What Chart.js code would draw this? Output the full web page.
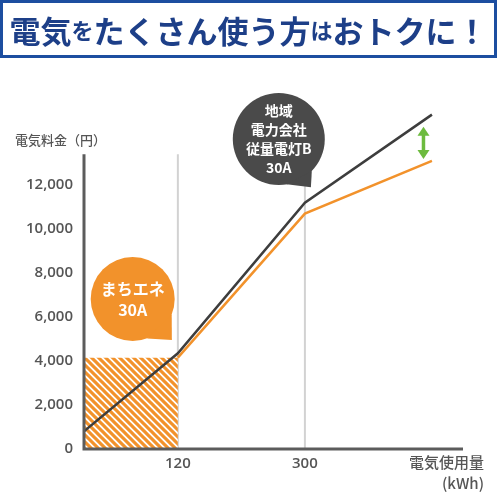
<!DOCTYPE html>
<html>
<head>
<meta charset="utf-8">
<script src="https://cdn.jsdelivr.net/npm/chart.js@4.4.1/dist/chart.umd.min.js"></script>
<style>
  body { margin: 0; background: #fff; }
  #wrap { position: relative; width: 500px; height: 500px; }
  #title {
    position: absolute; left: 0; top: 0; width: 497px; height: 58px;
    box-sizing: border-box; border: 3px solid #1c4ea0;
    display: flex; align-items: center; justify-content: center;
    font-family: "Noto Sans CJK JP", sans-serif; font-weight: 700;
    font-size: 31px; color: #1d3f88; white-space: nowrap;
  }
  #title .s { font-size: 22px; }
  canvas { position: absolute; left: 0; top: 0; }
</style>
</head>
<body>
<div id="wrap">
  <canvas id="chart" width="500" height="500"></canvas>
  <div id="title">電気<span class="s">を</span>たくさん使う方<span class="s">は</span>おトクに！</div>
</div>
<script>
// usage (kWh) and bill (yen)
const xTicks = [120, 300];
const yTicks = [0, 2000, 4000, 6000, 8000, 10000, 12000];

const regionalX = [-13, 120, 300, 480];
const regionalY = [800, 4350, 11200, 15200];

const machiX = [120, 300, 480];
const machiY = [4150, 10700, 13100];

const basicX = [-13, 120];
const basicY = [4150, 4150];

const axisTop = 13400;

const ORANGE = '#f2922b';
const DARK = '#3d3d3d';
const GRAY = '#555';
const JP = '"Noto Sans CJK JP", sans-serif';

const pts = (xs, ys) => xs.map((v, i) => ({ x: v, y: ys[i] }));

function stripes() {
    const n = 7;
    const t = document.createElement('canvas');
    t.width = t.height = n;
    const c = t.getContext('2d');
    c.fillStyle = '#fff';
    c.fillRect(0, 0, n, n);
    c.strokeStyle = ORANGE;
    c.lineWidth = 3.1;
    for (let k = -1; k <= 1; k++) {
        c.beginPath();
        c.moveTo(-2, -2 + n * k);
        c.lineTo(n + 2, n + 2 + n * k);
        c.stroke();
    }
    return document.getElementById('chart').getContext('2d').createPattern(t, 'repeat');
}

function bubble(ctx, cx, cy, r, tx, ty, a1, a2, color, lines, font, step) {
    ctx.save();
    ctx.fillStyle = color;
    ctx.beginPath();
    ctx.arc(cx, cy, r, 0, Math.PI * 2);
    ctx.fill();
    ctx.beginPath();
    ctx.moveTo(cx + r * Math.cos(a1), cy + r * Math.sin(a1));
    ctx.lineTo(tx, ty);
    ctx.lineTo(cx + r * Math.cos(a2), cy + r * Math.sin(a2));
    ctx.closePath();
    ctx.fill();
    ctx.fillStyle = '#fff';
    ctx.font = font;
    ctx.textAlign = 'center';
    ctx.textBaseline = 'middle';
    const y0 = cy - (lines.length - 1) * step / 2;
    lines.forEach((l, i) => ctx.fillText(l, cx, y0 + i * step));
    ctx.restore();
}

const decor = {
    id: 'decor',
    beforeDatasetsDraw(chart) {
        const { ctx, scales: { x, y } } = chart;
        ctx.save();
        ctx.strokeStyle = '#d2d2d2';
        ctx.lineWidth = 2;
        xTicks.forEach(v => {
            ctx.beginPath();
            ctx.moveTo(x.getPixelForValue(v), y.getPixelForValue(axisTop));
            ctx.lineTo(x.getPixelForValue(v), y.getPixelForValue(0));
            ctx.stroke();
        });
        ctx.restore();
    },
    afterDatasetsDraw(chart) {
        const { ctx, scales: { x, y } } = chart;
        ctx.save();
        // axes
        ctx.strokeStyle = '#5c5c5c';
        ctx.lineWidth = 3;
        ctx.beginPath();
        ctx.moveTo(x.left, y.getPixelForValue(axisTop));
        ctx.lineTo(x.left, y.getPixelForValue(0));
        ctx.lineTo(x.right, y.getPixelForValue(0));
        ctx.stroke();

        // green gap arrow
        const ax = x.getPixelForValue(468);
        const top = y.getPixelForValue(14650), bot = y.getPixelForValue(13180);
        ctx.fillStyle = '#6dbb3f';
        ctx.strokeStyle = '#6dbb3f';
        ctx.lineWidth = 3.5;
        ctx.beginPath();
        ctx.moveTo(ax, top + 6);
        ctx.lineTo(ax, bot - 6);
        ctx.stroke();
        ctx.beginPath();
        ctx.moveTo(ax, top); ctx.lineTo(ax - 6, top + 9); ctx.lineTo(ax + 6, top + 9);
        ctx.closePath(); ctx.fill();
        ctx.beginPath();
        ctx.moveTo(ax, bot); ctx.lineTo(ax - 6, bot - 9); ctx.lineTo(ax + 6, bot - 9);
        ctx.closePath(); ctx.fill();

        // axis titles
        ctx.fillStyle = GRAY;
        ctx.font = '500 13px ' + JP;
        ctx.textBaseline = 'middle';
        ctx.textAlign = 'left';
        ctx.fillText('電気料金（円）', 15, 140);
        ctx.font = '500 15px ' + JP;
        ctx.textAlign = 'right';
        ctx.fillText('電気使用量', 484, 462);
        ctx.fillText('(kWh)', 484, 483);
        ctx.restore();

        bubble(ctx, x.getPixelForValue(56), y.getPixelForValue(6820), 42,
            x.getPixelForValue(111.5), y.getPixelForValue(4950),
            0.38, 1.22, ORANGE, ['まちエネ', '30A'], 'bold 16px ' + JP, 21);
        bubble(ctx, x.getPixelForValue(263), y.getPixelForValue(14090), 46,
            x.getPixelForValue(308.5), y.getPixelForValue(11900),
            0.77, 1.40, '#4a4a4a', ['地域', '電力会社', '従量電灯B', '30A'], 'bold 14px ' + JP, 19);
    }
};

new Chart(document.getElementById('chart'), {
    type: 'scatter',
    data: {
        datasets: [{
            label: 'まちエネ 基本',
            data: pts(basicX, basicY),
            order: 2,
            showLine: true,
            fill: 'origin',
            backgroundColor: stripes(),
            borderWidth: 0,
            pointRadius: 0
        }, {
            label: 'まちエネ 30A',
            data: pts(machiX, machiY),
            order: 1,
            showLine: true,
            borderColor: ORANGE,
            borderWidth: 2.5,
            pointRadius: 0
        }, {
            label: '地域電力会社 従量電灯B 30A',
            data: pts(regionalX, regionalY),
            order: 0,
            showLine: true,
            borderColor: DARK,
            borderWidth: 2.5,
            pointRadius: 0
        }]
    },
    options: {
        responsive: false,
        animation: false,
        layout: { padding: { top: 97, right: 37, left: 0, bottom: 0 } },
        plugins: { legend: { display: false }, tooltip: { enabled: false } },
        scales: {
            x: {
                type: 'linear',
                min: -13,
                max: 524,
                afterBuildTicks: s => { s.ticks = xTicks.map(v => ({ value: v })); },
                afterFit: s => { s.height = 51; },
                grid: { display: false, drawTicks: false },
                border: { display: false },
                ticks: { padding: 6, color: GRAY, font: { family: '"Open Sans"', size: 15, weight: 600 } }
            },
            y: {
                min: 0,
                max: 16000,
                afterBuildTicks: s => { s.ticks = yTicks.map(v => ({ value: v })); },
                afterFit: s => { s.width = 84; },
                grid: { display: false, drawTicks: false },
                border: { display: false },
                ticks: {
                    padding: 11,
                    color: GRAY,
                    font: { family: '"Open Sans"', size: 15, weight: 600 },
                    callback: v => v.toLocaleString('en-US')
                }
            }
        }
    },
    plugins: [decor]
});
</script>
</body>
</html>
